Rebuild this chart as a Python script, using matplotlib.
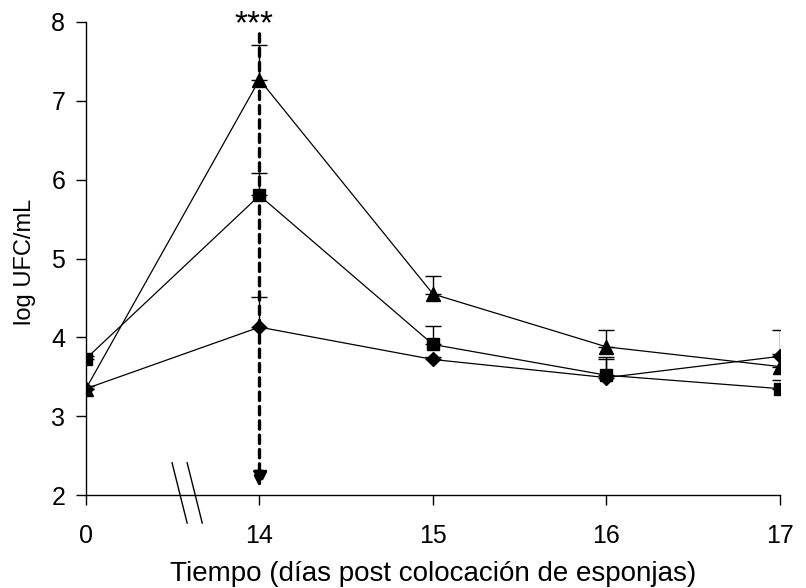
import matplotlib.pyplot as plt
from matplotlib.ticker import MultipleLocator

plt.rcParams['font.family'] = ['Liberation Sans', 'DejaVu Sans']

# dias de muestreo y valores medios (log UFC/mL)
dias = ['0', '14', '15', '16', '17']
triangulo = [3.35, 7.27, 4.55, 3.88, 3.63]
cuadrado = [3.73, 5.80, 3.91, 3.52, 3.35]
rombo = [3.35, 4.13, 3.72, 3.49, 3.76]

# error estandar (solo hacia arriba)
err_triangulo = [0.03, 0.44, 0.23, 0.21, 0.46]
err_cuadrado = [0.04, 0.28, 0.23, 0.23, 0.11]
err_rombo = [0.03, 0.38, 0.03, 0.23, 0.03]

x = list(range(len(dias)))

fig = plt.figure(figsize=(8.06, 5.88), dpi=100)
ax = fig.add_axes([0.1067, 0.158, 0.861, 0.8046])

series = [
    (rombo, err_rombo, 'D', 7),
    (cuadrado, err_cuadrado, 's', 8),
    (triangulo, err_triangulo, '^', 10),
]
for vals, errs, mk, ms in series:
    ax.errorbar(x, vals, yerr=[[0] * len(errs), errs], fmt='none',
                ecolor='black', elinewidth=1, capsize=6, capthick=1, zorder=2)
    ax.plot(x, vals, color='black', lw=0.9, marker=mk, markersize=ms,
            markerfacecolor='black', markeredgecolor='black', zorder=3)

# flecha discontinua en el dia 14
ax.annotate('', xy=(1, 2.1), xytext=(1, 7.85),
            arrowprops=dict(arrowstyle='-|>', linestyle=(0, (2.5, 1.8)), lw=2.4,
                            color='black', mutation_scale=22, shrinkA=0, shrinkB=0),
            zorder=4)
ax.text(0.97, 7.97, '***', ha='center', va='center', fontsize=24)

# marca de corte del eje x
for dx in (0, 0.087):
    ax.plot([0.496 + dx, 0.583 + dx], [2.41, 1.645], color='black', lw=1,
            clip_on=False)

ax.set_xlim(0, 4)
ax.set_ylim(2, 8)
ax.set_xticks(x)
ax.set_xticklabels(dias)
ax.yaxis.set_major_locator(MultipleLocator(1))
ax.tick_params(direction='out', length=7, width=1, labelsize=18)
ax.tick_params(axis='x', pad=14)
ax.tick_params(axis='y', pad=8)
ax.spines['top'].set_visible(False)
ax.spines['right'].set_visible(False)
ax.spines['left'].set_linewidth(1)
ax.spines['bottom'].set_linewidth(1)

ax.set_xlabel('Tiempo (días post colocación de esponjas)', fontsize=20, labelpad=9)
ax.set_ylabel('log UFC/mL', fontsize=17)
ax.yaxis.set_label_coords(-0.072, 0.493)

fig.savefig('out.png', dpi=100)
